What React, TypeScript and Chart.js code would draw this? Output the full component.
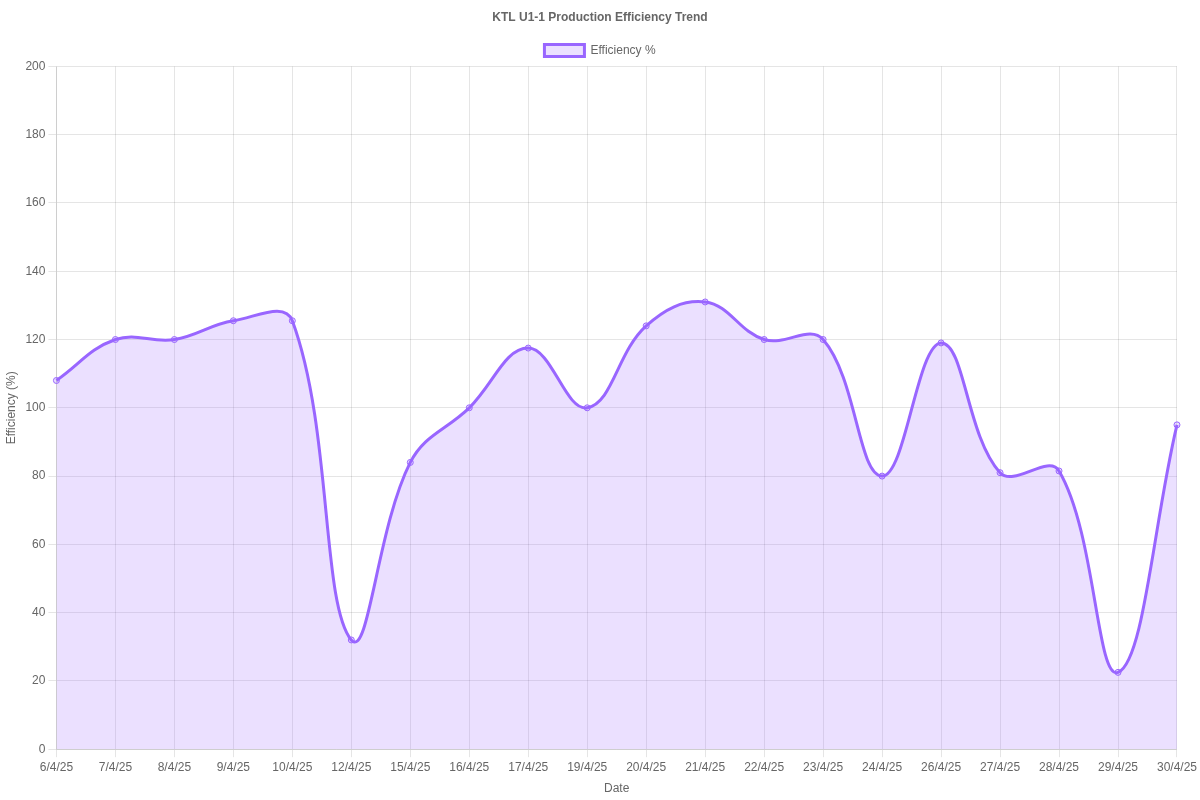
import { useEffect, useRef } from 'react'
import { Chart, registerables } from 'chart.js'

Chart.register(...registerables)

const dates = ['6/4/25', '7/4/25', '8/4/25', '9/4/25', '10/4/25', '12/4/25', '15/4/25', '16/4/25', '17/4/25', '19/4/25', '20/4/25', '21/4/25', '22/4/25', '23/4/25', '24/4/25', '26/4/25', '27/4/25', '28/4/25', '29/4/25', '30/4/25']
const efficiency = [108, 120, 120, 125.5, 125.5, 32, 84, 100, 117.5, 100, 124, 131, 120, 120, 80, 119, 81, 81.5, 22.5, 95]

const App = () => {
  const canvasRef = useRef<HTMLCanvasElement | null>(null)

  useEffect(() => {
    document.body.style.margin = '0'
    const ctx = canvasRef.current?.getContext('2d')
    if (!ctx) return
    const chart = new Chart(ctx, {
      type: 'line',
      data: {
        labels: dates,
        datasets: [
          {
            label: 'Efficiency %',
            data: efficiency,
            borderColor: 'rgb(153, 102, 255)',
            backgroundColor: 'rgba(153, 102, 255, 0.2)',
            fill: true,
            tension: 0.4,
            borderWidth: 3,
            pointRadius: 3,
            pointBorderWidth: 1,
          },
        ],
      },
      options: {
        animation: false,
        responsive: false,
        plugins: {
          title: { display: true, text: 'KTL U1-1 Production Efficiency Trend', font: { weight: 'bold' } },
          legend: { position: 'top' },
        },
        scales: {
          x: { title: { display: true, text: 'Date' } },
          y: { min: 0, max: 200, ticks: { stepSize: 20 }, title: { display: true, text: 'Efficiency (%)' } },
        },
      },
    })
    return () => chart.destroy()
  }, [])

  return <canvas ref={canvasRef} width={1200} height={800} style={{ display: 'block' }}></canvas>
}

export default App
